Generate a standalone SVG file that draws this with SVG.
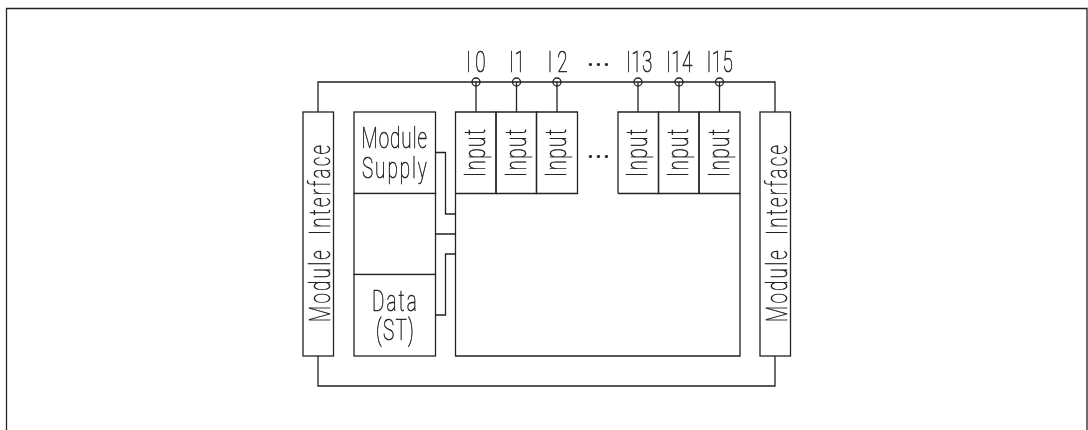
<svg xmlns="http://www.w3.org/2000/svg" width="1088" height="430" viewBox="0 0 1088 430">
<defs><filter id="gray" filterUnits="userSpaceOnUse" x="0" y="0" width="1088" height="430" color-interpolation-filters="sRGB"><feOffset dx="0" dy="0"/></filter></defs>
<style>
.b{fill:none;stroke:#222;stroke-width:1.3}
.w{fill:#fff;stroke:#222;stroke-width:1.3}
text{font-family:"Roboto","Liberation Sans",sans-serif;font-weight:100;font-size:30px;fill:#222;stroke:#222;stroke-width:.6}
.d{font-weight:400;font-size:27px;stroke-width:.2}
</style>
<rect width="1088" height="430" fill="#fff"/>
<g id="diagram" filter="url(#gray)">
<g id="frame"><path class="b" d="M6.500 430V8.500H1087V430"/></g>
<g id="connectors">
<path class="b" d="M318 112V82H775V112M318 356V386H775V356"/>
<path class="b" d="M476 82V112M516.500 82V112M557 82V112M638 82V112M679 82V112M719.500 82V112"/>
<path class="b" d="M435 152.500H445.500V214H455.500M435 234H455.500M435 315H445.500V254H455.500"/>
<g class="b"><circle cx="476" cy="82" r="4"/><circle cx="516.500" cy="82" r="4"/><circle cx="557" cy="82" r="4"/><circle cx="638" cy="82" r="4"/><circle cx="679" cy="82" r="4"/><circle cx="719.500" cy="82" r="4"/></g>
</g>
<g id="module-interface-left"><rect class="w" x="303" y="112" width="30.500" height="244"/><text transform="translate(329.500 322) rotate(-90) scale(.63 1)" textLength="281" word-spacing="10">Module Interface</text></g>
<g id="module-interface-right"><rect class="w" x="760" y="112" width="30.500" height="244"/><text transform="translate(786.500 322) rotate(-90) scale(.63 1)" textLength="281" word-spacing="10">Module Interface</text></g>
<g id="module-supply"><rect class="w" x="354" y="112" width="81.500" height="81.500"/><text transform="translate(361.500 148) scale(.63 1)" textLength="104">Module</text><text transform="translate(362 178) scale(.63 1)" textLength="103">Supply</text></g>
<g id="middle"><rect class="w" x="354" y="193.500" width="81.500" height="81"/></g>
<g id="data"><rect class="w" x="354" y="274.500" width="81.500" height="81.500"/><text transform="translate(372 311) scale(.63 1)" textLength="71">Data</text><text transform="translate(376 340) scale(.63 1)" textLength="60">(ST)</text></g>
<g id="main"><path class="b" d="M455.500 193.500V356H740V193.500"/></g>
<g id="input-0"><path class="b" d="M455.500 193.500V112H496V193.500H455.500"/><text transform="translate(485 177) rotate(-90) scale(.63 1)" textLength="76">Input</text></g>
<g id="input-1"><path class="b" d="M496 193.500V112H536.500V193.500H496"/><text transform="translate(525.500 177) rotate(-90) scale(.63 1)" textLength="76">Input</text></g>
<g id="input-2"><path class="b" d="M536.500 193.500V112H577.500V193.500H536.500"/><text transform="translate(566 177) rotate(-90) scale(.63 1)" textLength="76">Input</text></g>
<g id="input-13"><path class="b" d="M618 193.500V112H658.500V193.500H618"/><text transform="translate(647 177) rotate(-90) scale(.63 1)" textLength="76">Input</text></g>
<g id="input-14"><path class="b" d="M658.500 193.500V112H699V193.500H658.500"/><text transform="translate(688 177) rotate(-90) scale(.63 1)" textLength="76">Input</text></g>
<g id="input-15"><path class="b" d="M699 193.500V112H740V193.500H699"/><text transform="translate(728.500 177) rotate(-90) scale(.63 1)" textLength="76">Input</text></g>
<g id="labels">
<text transform="translate(466 72) scale(.63 1)" textLength="31">I0</text>
<text transform="translate(509 72) scale(.63 1)" textLength="25">I1</text>
<text transform="translate(547.500 72) scale(.63 1)" textLength="32">I2</text>
<text class="d" x="587" y="66" textLength="23">...</text>
<text transform="translate(626 72) scale(.63 1)" textLength="42">I13</text>
<text transform="translate(666 72) scale(.63 1)" textLength="42">I14</text>
<text transform="translate(706.500 72) scale(.63 1)" textLength="42">I15</text>
<text class="d" x="587" y="158" textLength="23">...</text>
</g>
</g>
</svg>
